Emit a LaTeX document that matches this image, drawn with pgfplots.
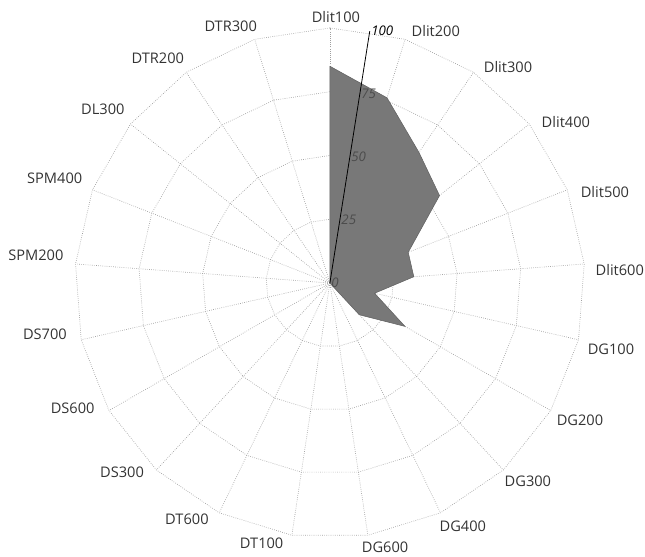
\documentclass[border=0pt]{standalone}
\usepackage{fontspec}
\setmainfont{Open Sans}
\usepackage{pgfplots}
\pgfplotsset{compat=1.18}
\usepgfplotslibrary{polar}
\begin{document}
\begin{tikzpicture}[lab/.style={font=\fontsize{11}{13}\selectfont, text=black!80, inner sep=0pt}]
\begin{polaraxis}[
  scale only axis, width=13.5cm, height=13.5cm,
  ymin=0, ymax=100,
  xtick=\empty,
  ytick=\empty,
  axis line style={draw=none},
  major tick length=0pt,
  clip=false,
]
% grid rings
\pgfplotsset{gridline/.style={black!38, dash pattern=on 0.5pt off 1.1pt, line width=0.5pt}}
\addplot[gridline] coordinates {(90,25) (72.857,25) (55.714,25) (38.571,25) (21.429,25) (4.286,25) (347.143,25) (330,25) (312.857,25) (295.714,25) (278.571,25) (261.429,25) (244.286,25) (227.143,25) (210,25) (192.857,25) (175.714,25) (158.571,25) (141.429,25) (124.286,25) (107.143,25) (90,25)};
\addplot[gridline] coordinates {(90,50) (72.857,50) (55.714,50) (38.571,50) (21.429,50) (4.286,50) (347.143,50) (330,50) (312.857,50) (295.714,50) (278.571,50) (261.429,50) (244.286,50) (227.143,50) (210,50) (192.857,50) (175.714,50) (158.571,50) (141.429,50) (124.286,50) (107.143,50) (90,50)};
\addplot[gridline] coordinates {(90,75) (72.857,75) (55.714,75) (38.571,75) (21.429,75) (4.286,75) (347.143,75) (330,75) (312.857,75) (295.714,75) (278.571,75) (261.429,75) (244.286,75) (227.143,75) (210,75) (192.857,75) (175.714,75) (158.571,75) (141.429,75) (124.286,75) (107.143,75) (90,75)};
\addplot[gridline] coordinates {(90,100) (72.857,100) (55.714,100) (38.571,100) (21.429,100) (4.286,100) (347.143,100) (330,100) (312.857,100) (295.714,100) (278.571,100) (261.429,100) (244.286,100) (227.143,100) (210,100) (192.857,100) (175.714,100) (158.571,100) (141.429,100) (124.286,100) (107.143,100) (90,100)};
% spokes
\pgfplotsinvokeforeach{90,72.857,55.714,38.571,21.429,4.286,347.143,330,312.857,295.714,278.571,261.429,244.286,227.143,210,192.857,175.714,158.571,141.429,124.286,107.143}{
  \addplot[gridline] coordinates {(#1,0) (#1,100)};
}
% data
\addplot[fill=black!53, draw=black!62, line width=0.4pt] coordinates {
(90,85) (72.857,76) (55.714,62) (38.571,55) (21.429,33) (4.286,33) (347.143,18) (330,34) (312.857,17) (295.714,0) (278.571,0) (261.429,0) (244.286,0) (227.143,0) (210,0) (192.857,0) (175.714,0) (158.571,0) (141.429,0) (124.286,0) (107.143,0) (90,85)};
% radial axis
\addplot[black, line width=0.6pt] coordinates {(81,0) (81,100)};
\node[anchor=west, font=\itshape\fontsize{10}{12}\selectfont, text=black!70, inner sep=1pt] at (axis cs:81,0) {0};
\node[anchor=west, font=\itshape\fontsize{10}{12}\selectfont, text=black!70, inner sep=1pt] at (axis cs:81,25) {25};
\node[anchor=west, font=\itshape\fontsize{10}{12}\selectfont, text=black!70, inner sep=1pt] at (axis cs:81,50) {50};
\node[anchor=west, font=\itshape\fontsize{10}{12}\selectfont, text=black!70, inner sep=1pt] at (axis cs:81,75) {75};
\node[anchor=west, font=\itshape\fontsize{10}{12}\selectfont, text=black, inner sep=1pt] at (axis cs:81,100) {100};
% category labels
\node[lab] at (axis cs:88.7,104.3) {Dlit100};
\node[lab] at (axis cs:67.2,107.2) {Dlit200};
\node[lab] at (axis cs:50.5,109.8) {Dlit300};
\node[lab] at (axis cs:34.3,112.0) {Dlit400};
\node[lab] at (axis cs:18.3,113.6) {Dlit500};
\node[lab] at (axis cs:2.6,113.8) {Dlit600};
\node[lab] at (axis cs:346.8,113.2) {DG100};
\node[lab] at (axis cs:331.3,111.8) {DG200};
\node[lab] at (axis cs:315,109.8) {DG300};
\node[lab] at (axis cs:298.7,108.6) {DG400};
\node[lab] at (axis cs:281.8,105.8) {DG600};
\node[lab] at (axis cs:255.3,105.4) {DT100};
\node[lab] at (axis cs:238.8,108.2) {DT600};
\node[lab] at (axis cs:222.3,110.2) {DS300};
\node[lab] at (axis cs:205.9,112.1) {DS600};
\node[lab] at (axis cs:190.1,113.5) {DS700};
\node[lab] at (axis cs:174.6,115.8) {SPM200};
\node[lab] at (axis cs:159.1,115.5) {SPM400};
\node[lab] at (axis cs:142.5,112.2) {DL300};
\node[lab] at (axis cs:127.4,111.1) {DTR200};
\node[lab] at (axis cs:111.1,108.0) {DTR300};
\coordinate (O) at (axis cs:0,0);
\end{polaraxis}
\pgfresetboundingbox
\path (O) ++(-8.73cm,7.49cm) rectangle ++(17.07cm,-14.74cm);
\end{tikzpicture}
\end{document}
